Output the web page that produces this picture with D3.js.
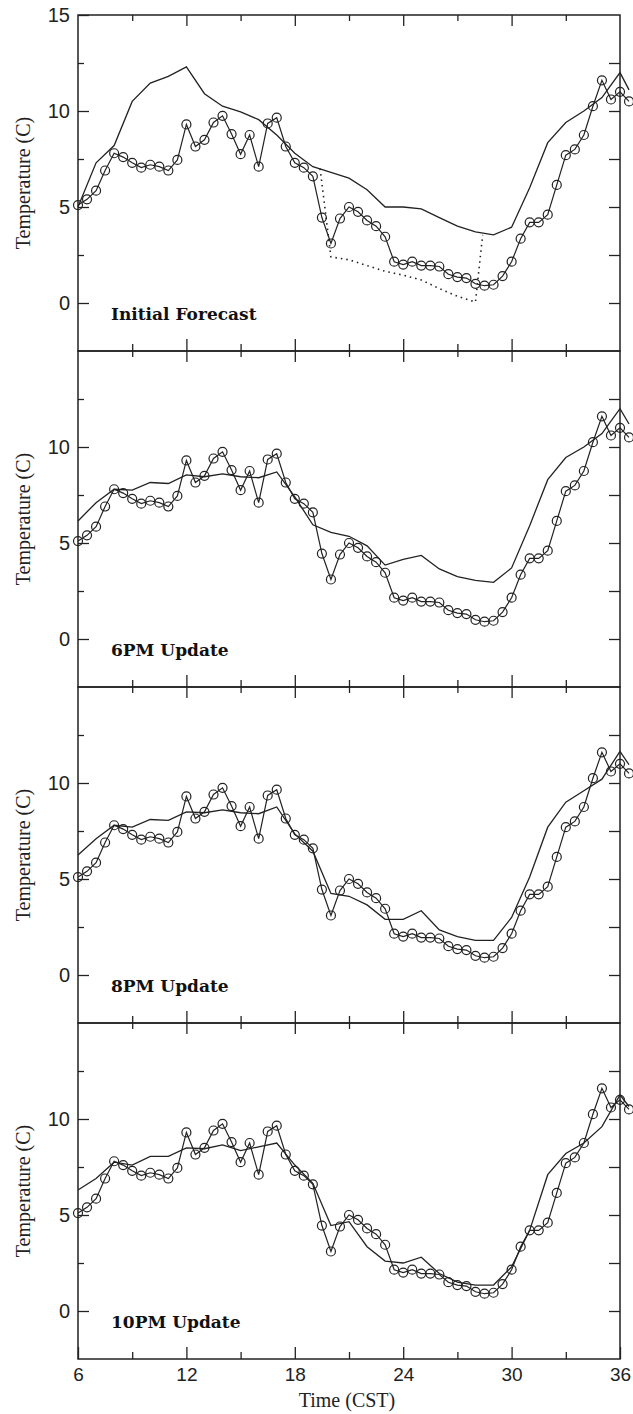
<!DOCTYPE html>
<html>
<head>
<meta charset="utf-8">
<title>Temperature forecasts</title>
<script src="https://cdn.jsdelivr.net/npm/d3@7"></script>
<style>
  body { margin: 0; background: #fff; }
  .tick line { stroke: #222; stroke-width: 1.3px; }
  .ylab text { font-family: "Liberation Sans Narrow", "Liberation Sans", sans-serif; font-size: 20px; fill: #222; }
  .xlab text { font-family: "Liberation Sans Narrow", "Liberation Sans", sans-serif; font-size: 19px; fill: #222; }
  .frame { fill: none; stroke: #222; stroke-width: 1.5px; }
  .obs { fill: none; stroke: #222; stroke-width: 1.2px; }
  .fc { fill: none; stroke: #222; stroke-width: 1.3px; }
  .dots { fill: none; stroke: #222; stroke-width: 1.6px; stroke-dasharray: 1.5 4; }
  .ptitle { font-family: "DejaVu Serif", serif; font-weight: bold; font-size: 17px; fill: #111; }
  .atitle { font-family: "Liberation Serif", "Times New Roman", serif; font-size: 20px; fill: #222; }
</style>
</head>
<body>
<div id="chart"></div>
<script>

// observed temperatures, every half hour (circles)
var obsTimes = [6, 6.5, 7, 7.5, 8, 8.5, 9, 9.5, 10, 10.5, 11, 11.5, 12, 12.5, 13, 13.5,
                14, 14.5, 15, 15.5, 16, 16.5, 17, 17.5, 18, 18.5, 19, 19.5, 20, 20.5, 21, 21.5,
                22, 22.5, 23, 23.5, 24, 24.5, 25, 25.5, 26, 26.5, 27, 27.5, 28, 28.5, 29, 29.5,
                30, 30.5, 31, 31.5, 32, 32.5, 33, 33.5, 34, 34.5, 35, 35.5, 36, 36.5];
var obsTemp = [5.1, 5.4, 5.85, 6.9, 7.8, 7.6, 7.3, 7.05, 7.2, 7.1, 6.9, 7.45, 9.3, 8.15, 8.5, 9.4,
               9.75, 8.8, 7.75, 8.75, 7.1, 9.35, 9.65, 8.15, 7.3, 7.05, 6.6, 4.45, 3.1, 4.4, 5.0, 4.75,
               4.3, 4.0, 3.45, 2.15, 2.0, 2.15, 1.95, 1.95, 1.9, 1.5, 1.35, 1.3, 1.0, 0.9, 0.95, 1.4,
               2.15, 3.35, 4.2, 4.2, 4.6, 6.15, 7.7, 8.0, 8.75, 10.25, 11.6, 10.6, 11.0, 10.5];

// forecast lines, hourly
var fcTimes = [6, 7, 8, 9, 10, 11, 12, 13, 14, 15, 16, 17, 18, 19, 20, 21,
               22, 23, 24, 25, 26, 27, 28, 29, 30, 31, 32, 33, 34, 35, 36, 36.5];
var fcInitial = [5.0, 7.3, 8.2, 10.5, 11.45, 11.8, 12.3, 10.9, 10.25, 9.95, 9.55, 8.75, 7.8, 7.1, 6.8, 6.5,
                 5.9, 5.0, 5.0, 4.9, 4.45, 4.0, 3.7, 3.55, 3.95, 6.0, 8.35, 9.4, 10.0, 10.7, 12.0, 11.1];
var fc6pm = [6.15, 7.1, 7.8, 7.75, 8.15, 8.1, 8.55, 8.45, 8.6, 8.45, 8.4, 8.7, 7.4, 5.95, 5.55, 5.35,
             4.85, 3.85, 4.15, 4.35, 3.65, 3.25, 3.05, 2.95, 3.7, 5.9, 8.3, 9.45, 10.0, 10.7, 12.0, 11.2];
var fc8pm = [6.25, 7.1, 7.8, 7.7, 8.1, 8.05, 8.5, 8.45, 8.6, 8.45, 8.4, 8.75, 7.35, 6.45, 4.25, 4.1,
             3.65, 2.9, 2.9, 3.35, 2.35, 2.0, 1.8, 1.8, 3.0, 5.1, 7.7, 9.0, 9.6, 10.2, 11.65, 10.95];
var fc10pm = [6.3, 6.9, 7.75, 7.6, 8.05, 8.05, 8.5, 8.45, 8.65, 8.35, 8.55, 8.75, 7.6, 6.65, 4.45, 4.65,
              3.35, 2.6, 2.5, 2.8, 1.95, 1.5, 1.35, 1.35, 2.3, 4.2, 7.1, 8.2, 8.75, 9.6, 11.25, 10.65];

// dotted line in the first panel
var dotTimes = [19.4, 20, 21, 22, 23, 24, 25, 26, 27, 28, 28.4];
var dotTemp = [7.0, 2.4, 2.25, 1.95, 1.65, 1.45, 1.2, 0.75, 0.35, 0.05, 3.55];

var panelNames = ["Initial Forecast", "6PM Update", "8PM Update", "10PM Update"];
var panelFc = [fcInitial, fc6pm, fc8pm, fc10pm];

var yMajor = [0, 5, 10];
var yMinor = [2.5, 7.5, 12.5];
var yRight = [0, 2.5, 5, 7.5, 10, 12.5];
var xMajor = [12, 18, 24, 30];
var xMinor = [9, 15, 21, 27, 33];
var xLabels = [6, 12, 18, 24, 30, 36];

var W = 633, H = 1414;
var left = 78, right = 620, top0 = 15, panelH = 336;

var svg = d3.select("#chart").append("svg")
    .attr("width", W)
    .attr("height", H);

var x = d3.scaleLinear().domain([6, 36]).range([left, right]);

var obsPts = obsTimes.map(function(t, i){ return [t, obsTemp[i]]; });

function drawPanel(p) {
    var py = top0 + p * panelH;
    var y = d3.scaleLinear().domain([-2.5, 15]).range([py + panelH, py]);
    var g = svg.append("g");

    var line = d3.line()
        .x(function(d){ return x(d[0]); })
        .y(function(d){ return y(d[1]); });

    // left axis
    var lt = [].concat(yMajor);
    if (p == 0) lt.push(15);
    g.append("g").attr("class", "ylab")
        .attr("transform", "translate(" + left + ",0)")
        .call(d3.axisLeft(y).tickValues(lt).tickSize(-11).tickPadding(8).tickFormat(d3.format("d")));
    g.append("g")
        .attr("transform", "translate(" + left + ",0)")
        .call(d3.axisLeft(y).tickValues(yMinor).tickSize(-6).tickFormat(""));
    // right axis
    g.append("g")
        .attr("transform", "translate(" + right + ",0)")
        .call(d3.axisRight(y).tickValues(yRight).tickSize(-11).tickFormat(""));
    // top axis
    g.append("g")
        .attr("transform", "translate(0," + py + ")")
        .call(d3.axisTop(x).tickValues(xMajor).tickSize(-11).tickFormat(""));
    g.append("g")
        .attr("transform", "translate(0," + py + ")")
        .call(d3.axisTop(x).tickValues(xMinor).tickSize(-6).tickFormat(""));
    // bottom axis
    var bx = g.append("g").attr("class", "xlab")
        .attr("transform", "translate(0," + (py + panelH) + ")");
    if (p == 3) {
        bx.call(d3.axisBottom(x).tickValues(xLabels).tickSize(-12).tickPadding(9).tickFormat(d3.format("d")));
    } else {
        bx.call(d3.axisBottom(x).tickValues(xMajor).tickSize(-12).tickFormat(""));
    }
    g.append("g")
        .attr("transform", "translate(0," + (py + panelH) + ")")
        .call(d3.axisBottom(x).tickValues(xMinor).tickSize(-7).tickFormat(""));

    g.selectAll(".domain").remove();

    g.append("rect").attr("class", "frame")
        .attr("x", left).attr("y", py)
        .attr("width", right - left).attr("height", panelH);

    // forecast
    var fcPts = fcTimes.map(function(t, i){ return [t, panelFc[p][i]]; });
    g.append("path").attr("class", "fc").attr("d", line(fcPts));

    if (p == 0) {
        var dPts = dotTimes.map(function(t, i){ return [t, dotTemp[i]]; });
        g.append("path").attr("class", "dots").attr("d", line(dPts));
    }

    // observations
    g.append("path").attr("class", "obs").attr("d", line(obsPts));
    g.selectAll("circle.o")
        .data(obsPts)
        .enter()
        .append("circle")
        .attr("class", "obs")
        .attr("cx", function(d){ return x(d[0]); })
        .attr("cy", function(d){ return y(d[1]); })
        .attr("r", 4.5);

    g.append("text").attr("class", "ptitle")
        .attr("x", left + 33)
        .attr("y", y(-0.9))
        .text(panelNames[p]);

    g.append("text").attr("class", "atitle")
        .attr("text-anchor", "middle")
        .attr("transform", "translate(30," + (py + panelH / 2) + ") rotate(-90)")
        .text("Temperature (C)");
}

for (var p = 0; p < 4; p++) drawPanel(p);

svg.append("text").attr("class", "atitle")
    .attr("x", 347)
    .attr("y", 1407)
    .attr("text-anchor", "middle")
    .text("Time (CST)");

</script>
</body>
</html>
